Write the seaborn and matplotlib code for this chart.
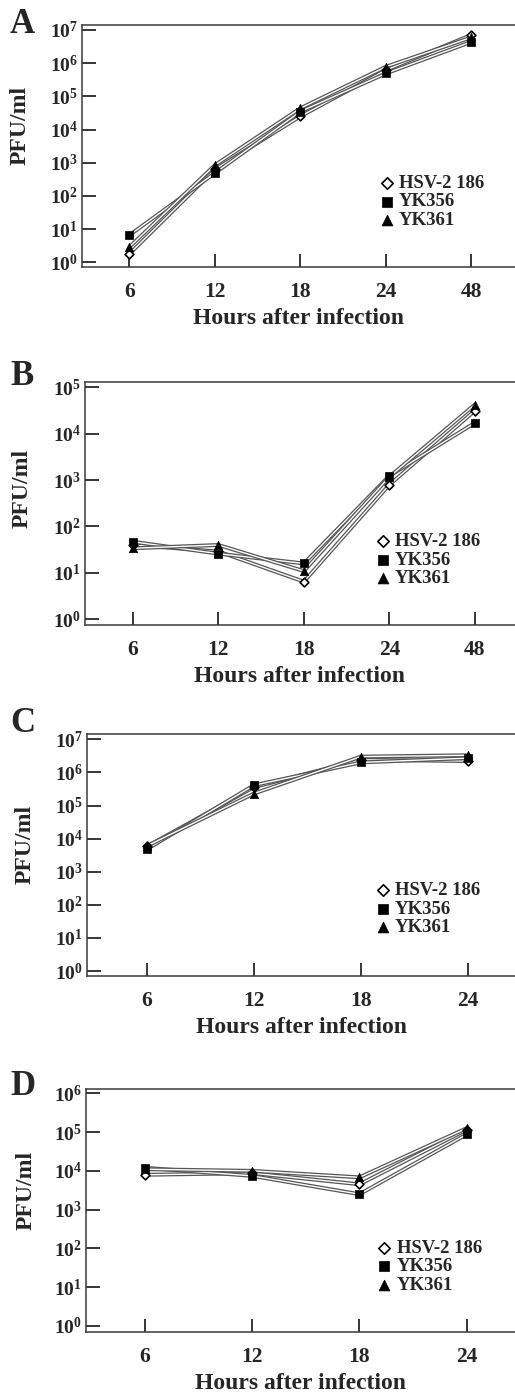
import matplotlib
matplotlib.use("Agg")
import matplotlib.pyplot as plt
import matplotlib.patheffects as pe
import pandas as pd
import seaborn as sns

# ---------------- data (PFU/ml) ----------------
strains = ["HSV-2 186", "YK356", "YK361"]
hours_ab = ["6", "12", "18", "24", "48"]
hours_cd = ["6", "12", "18", "24"]

a_hsv = [1.8, 630, 2.5e4, 6.2e5, 7.1e6]
a_yk356 = [6.6, 490, 3.5e4, 4.9e5, 4.4e6]
a_yk361 = [2.9, 850, 4.4e4, 7.8e5, 6.0e6]

b_hsv = [40, 29, 6.5, 790, 3.1e4]
b_yk356 = [47, 26, 16, 1230, 1.7e4]
b_yk361 = [34, 40, 11, 1170, 4.2e4]

c_hsv = [5800, 3.6e5, 2.4e6, 2.2e6]
c_yk356 = [4800, 4.1e5, 2.0e6, 2.7e6]
c_yk361 = [6000, 2.3e5, 3.0e6, 3.3e6]

d_hsv = [7900, 8700, 4500, 1.15e5]
d_yk356 = [1.2e4, 7400, 2500, 8.7e4]
d_yk361 = [1.1e4, 1.0e4, 6800, 1.26e5]

panel_letters = ["A", "B", "C", "D"]
xlabel_text = "Hours after infection"
ylabel_text = "PFU/ml"

# ---------------- style ----------------
sns.set_style("white")
plt.rcParams["font.family"] = ["Liberation Serif", "DejaVu Serif"]
plt.rcParams["font.weight"] = "bold"
plt.rcParams["axes.labelweight"] = "bold"
plt.rcParams["mathtext.fontset"] = "custom"
plt.rcParams["mathtext.rm"] = "Liberation Serif:bold"
plt.rcParams["mathtext.bf"] = "Liberation Serif:bold"
plt.rcParams["mathtext.it"] = "Liberation Serif:bold"
plt.rcParams["mathtext.default"] = "regular"

W, H = 515, 1394
fig = plt.figure(figsize=(W / 100, H / 100), dpi=100)


def make_df(hours, hsv, yk356, yk361):
    rows = []
    for s, vals in zip(strains, [hsv, yk356, yk361]):
        for h, v in zip(hours, vals):
            rows.append({"hours": h, "pfu": v, "strain": s})
    return pd.DataFrame(rows)


panels = [
    dict(df=make_df(hours_ab, a_hsv, a_yk356, a_yk361), box=(82, 25, 267),
         ylim=(-0.14, 7.15), xlim=(-0.555, 4.51), ymax=7, leg=(0.686, 0.269),
         ylab=(-0.118, 0.587), letter_base=33),
    dict(df=make_df(hours_ab, b_hsv, b_yk356, b_yk361), box=(85, 382, 625),
         ylim=(-0.12, 5.11), xlim=(-0.56, 4.47), ymax=5, leg=(0.675, 0.267),
         ylab=(-0.122, 0.56), letter_base=385),
    dict(df=make_df(hours_cd, c_hsv, c_yk356, c_yk361), box=(87, 734, 976),
         ylim=(-0.15, 7.16), xlim=(-0.56, 3.44), ymax=7, leg=(0.673, 0.276),
         ylab=(-0.12, 0.545), letter_base=732),
    dict(df=make_df(hours_cd, d_hsv, d_yk356, d_yk361), box=(86, 1089, 1332),
         ylim=(-0.155, 6.11), xlim=(-0.55, 3.45), ymax=6, leg=(0.678, 0.269),
         ylab=(-0.115, 0.584), letter_base=1095),
]

marker_styles = {
    "HSV-2 186": dict(marker="D", s=20, facecolor="white", edgecolor="black", linewidth=1.2),
    "YK356": dict(marker="s", s=30, facecolor="black", edgecolor="black", linewidth=0.5),
    "YK361": dict(marker="^", s=36, facecolor="black", edgecolor="black", linewidth=0.5),
}

line_fx = [pe.Stroke(linewidth=2.8, foreground="#555555"),
           pe.Stroke(linewidth=1.0, foreground="white")]

for letter, p in zip(panel_letters, panels):
    left, top, bottom = p["box"]
    ax = fig.add_axes([left / W, 1 - bottom / H, 1 - left / W, (bottom - top) / H])
    df = p["df"]

    for s in strains:
        sub = df[df["strain"] == s]
        sns.lineplot(data=sub, x="hours", y="pfu", ax=ax, color="#555555",
                     linewidth=2.8, errorbar=None, legend=False, sort=False,
                     path_effects=line_fx)
    for s in strains:
        sub = df[df["strain"] == s]
        sns.scatterplot(data=sub, x="hours", y="pfu", ax=ax, label=s,
                        zorder=5, **marker_styles[s])

    ax.set_yscale("log")
    ax.set_ylim(10 ** p["ylim"][0], 10 ** p["ylim"][1])
    ax.set_xlim(*p["xlim"])
    yt = [10 ** k for k in range(0, p["ymax"] + 1)]
    ax.set_yticks(yt)
    ax.set_yticklabels([r"$10^{%d}$" % k for k in range(0, p["ymax"] + 1)])
    ax.yaxis.set_minor_locator(matplotlib.ticker.NullLocator())

    for side in ["left", "top", "bottom"]:
        ax.spines[side].set_visible(True)
        ax.spines[side].set_color("#3a3a3a")
        ax.spines[side].set_linewidth(1.1)
    ax.spines["right"].set_visible(False)

    ax.tick_params(axis="y", which="major", direction="in", length=10, width=1.1,
                   color="black", labelsize=14, pad=3, left=True)
    ax.tick_params(axis="x", which="major", direction="in", length=9.5, width=1.1,
                   color="black", labelsize=15.5, pad=11, bottom=True)

    ax.set_xlabel(xlabel_text, fontsize=17, fontweight="bold", labelpad=4)
    ax.set_ylabel(ylabel_text, fontsize=17, fontweight="bold")
    ax.yaxis.set_label_coords(*p["ylab"])

    handles, labels = ax.get_legend_handles_labels()
    ax.legend(handles, labels, loc="center left", bbox_to_anchor=p["leg"],
              frameon=False, borderpad=0, borderaxespad=0, handlelength=0.8,
              handletextpad=0.25, labelspacing=0.08, markerscale=1.3,
              prop={"weight": "bold", "size": 13.5})

    fig.text(10 / W, 1 - p["letter_base"] / H, letter, fontsize=25,
             fontweight="bold", ha="left", va="baseline")

fig.savefig("out.png", dpi=100)
